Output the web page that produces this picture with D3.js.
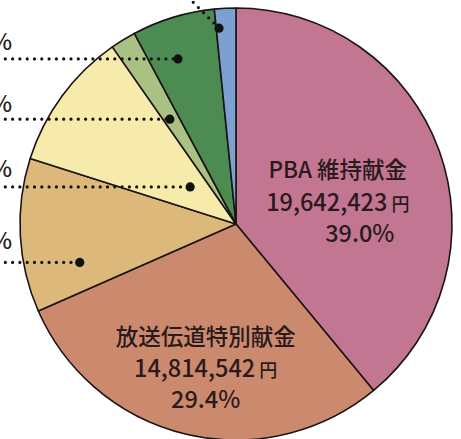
<!DOCTYPE html>
<html><head><meta charset="utf-8">
<script src="https://cdn.jsdelivr.net/npm/d3@7"></script>
<style>
html,body{margin:0;padding:0;background:#fff;overflow:hidden;}
svg{display:block;}
text{font-family:"Noto Sans CJK JP","Noto Sans",sans-serif;fill:#2a1a1c;font-weight:500;}
</style></head>
<body>
<svg id="chart" width="461" height="439"></svg>
<script>
// ---- data ----
const categories = ["PBA 維持献金", "放送伝道特別献金", "一般献金", "特別献金", "指定献金", "その他献金", "雑収入"];
const percents   = [39.0, 29.4, 11.5, 10.4, 1.9, 6.2, 1.6];
const amounts    = ["19,642,423", "14,814,542", null, null, null, null, null];
const colors     = ["#c37692", "#cb8a6d", "#dcb87b", "#f6ebab", "#a9c283", "#4c8c53", "#7ca1d0"];

const W = 461, H = 439, cx = 236, cy = 224, R = 216;
const svg = d3.select("#chart");
const g = svg.append("g").attr("transform", `translate(${cx},${cy})`);

const pie = d3.pie().sort(null).value(d => d)(percents);
const arc = d3.arc().innerRadius(0).outerRadius(R);

g.selectAll("path.slice").data(pie).enter().append("path")
  .attr("class", "slice")
  .attr("d", arc)
  .attr("fill", (d, i) => colors[i])
  .attr("stroke", "#1c1414")
  .attr("stroke-width", 1.6)
  .attr("stroke-linejoin", "round");

// point inside slice: fraction along the angle, fraction of radius
function pt(d, fa, fr) {
  const a = d.startAngle + fa * (d.endAngle - d.startAngle);
  return [fr * R * Math.sin(a), -fr * R * Math.cos(a)];
}

// inner labels
function multi(x, lines) {
  lines.forEach(l => {
    const t = g.append("text").attr("x", x + (l.dx || 0)).attr("y", l.y)
      .attr("text-anchor", "middle").style("font-size", l.size + "px");
    t.append("tspan").text(l.text);
    if (l.unit) t.append("tspan").style("font-size", "18px").text(" " + l.unit);
  });
}
const p0 = pt(pie[0], 0.5, 0.55);
multi(p0[0] - 10, [
  {y: 178 - cy, text: categories[0], size: 22.5},
  {y: 211 - cy, text: amounts[0], unit: "円", size: 23.5},
  {y: 242 - cy, text: percents[0].toFixed(1) + "%", size: 23.5, dx: 22}
]);
const p1 = pt(pie[1], 0.5, 0.55);
multi(p1[0] - 3, [
  {y: 345 - cy, text: categories[1], size: 22.5},
  {y: 377 - cy, text: amounts[1], unit: "円", size: 23.5},
  {y: 408 - cy, text: percents[1].toFixed(1) + "%", size: 23.5}
]);

// leader lines with dots for small / left slices
const leaders = [
  {i: 5, fa: 0.39, fr: 0.81, dy: -9},
  {i: 4, fa: 0.39, fr: 0.574, dy: -7},
  {i: 3, fa: 0.57, fr: 0.273, dy: -10},
  {i: 2, fa: 0.24, fr: 0.745, dy: -13}
];
leaders.forEach(L => {
  const p = pt(pie[L.i], L.fa, L.fr);
  g.append("line")
    .attr("x1", -cx - 2).attr("y1", p[1]).attr("x2", p[0]).attr("y2", p[1])
    .attr("stroke", "#111").attr("stroke-width", 3.2)
    .attr("stroke-linecap", "round").attr("stroke-dasharray", "0 7.3");
  g.append("circle").attr("cx", p[0]).attr("cy", p[1]).attr("r", 4.6).attr("fill", "#111");
  g.append("text").attr("x", 12 - cx).attr("y", p[1] + L.dy)
    .attr("text-anchor", "end").style("font-size", "23px")
    .text(categories[L.i] + " " + percents[L.i].toFixed(1) + "%");
});

// blue slice leader going up-left out of the frame
{
  const p = pt(pie[6], 0.14, 0.91);
  g.append("line")
    .attr("x1", p[0]).attr("y1", p[1]).attr("x2", p[0] - 45).attr("y2", p[1] - 45)
    .attr("stroke", "#111").attr("stroke-width", 3.2)
    .attr("stroke-linecap", "round").attr("stroke-dasharray", "0 7.3");
  g.append("circle").attr("cx", p[0]).attr("cy", p[1]).attr("r", 4.6).attr("fill", "#111");
  g.append("text").attr("x", p[0] - 50).attr("y", p[1] - 50)
    .attr("text-anchor", "end").style("font-size", "23px")
    .text(categories[6] + " " + percents[6].toFixed(1) + "%");
}
</script>
</body></html>
